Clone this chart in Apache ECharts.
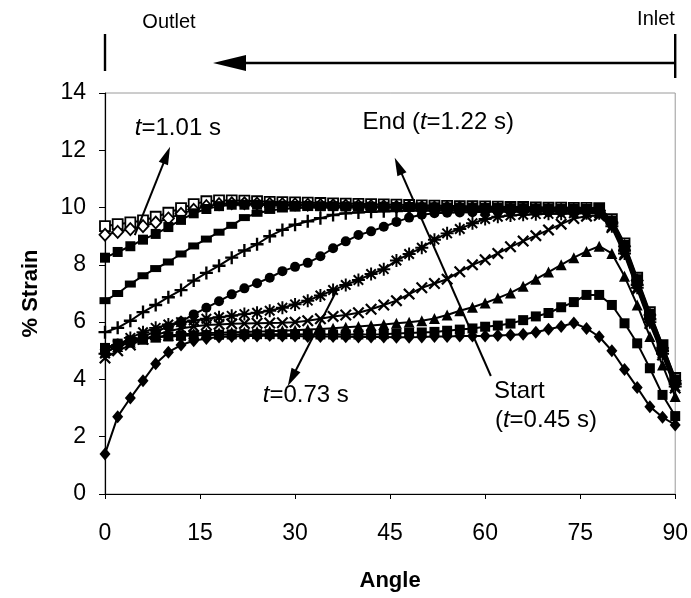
<!DOCTYPE html>
<html>
<head>
<meta charset="utf-8">
<script src="https://cdn.jsdelivr.net/npm/echarts@6/dist/echarts.min.js"></script>
<style>
  html, body { margin: 0; padding: 0; background: #fff; }
  #chart { width: 691px; height: 598px; }
</style>
</head>
<body>
<div id="chart"></div>
<script>
// Circumferential strain profiles along the vessel wall, one curve per time step.
const angles = [0, 2, 4, 6, 8, 10, 12, 14, 16, 18,
                20, 22, 24, 26, 28, 30, 32, 34, 36, 38,
                40, 42, 44, 46, 48, 50, 52, 54, 56, 58,
                60, 62, 64, 66, 68, 70, 72, 74, 76, 78,
                80, 82, 84, 86, 88, 90];
const xTicks = [0, 15, 30, 45, 60, 75, 90];
const yTicks = [0, 2, 4, 6, 8, 10, 12, 14];

// Start (t = 0.45 s)
const strainStart = [1.4, 2.7, 3.35, 3.95, 4.55, 4.95, 5.2, 5.35, 5.43, 5.48,
  5.5, 5.52, 5.52, 5.53, 5.52, 5.52, 5.5, 5.5, 5.5, 5.49,
  5.48, 5.48, 5.48, 5.47, 5.47, 5.48, 5.5, 5.5, 5.52, 5.52,
  5.52, 5.53, 5.55, 5.58, 5.65, 5.75, 5.85, 5.97, 5.78, 5.49,
  5.0, 4.35, 3.72, 3.05, 2.68, 2.41];
const strainB = [5.1, 5.25, 5.35, 5.42, 5.47, 5.5, 5.52, 5.54, 5.55, 5.56,
  5.57, 5.58, 5.58, 5.58, 5.58, 5.58, 5.57, 5.57, 5.57, 5.57,
  5.57, 5.57, 5.58, 5.6, 5.62, 5.64, 5.66, 5.7, 5.74, 5.78,
  5.84, 5.88, 5.95, 6.07, 6.2, 6.32, 6.52, 6.7, 6.95, 6.95,
  6.6, 5.96, 5.26, 4.39, 3.46, 2.72];
const strainC = [4.95, 5.15, 5.3, 5.4, 5.48, 5.53, 5.57, 5.6, 5.62, 5.63,
  5.65, 5.66, 5.67, 5.68, 5.7, 5.72, 5.74, 5.76, 5.79, 5.82,
  5.85, 5.88, 5.92, 5.96, 6.0, 6.05, 6.13, 6.25, 6.4, 6.52,
  6.67, 6.84, 7.02, 7.25, 7.5, 7.75, 8.0, 8.25, 8.47, 8.65,
  8.4, 7.6, 6.6, 5.5, 4.5, 3.4];
const strainD = [4.75, 5.0, 5.2, 5.4, 5.55, 5.68, 5.78, 5.85, 5.9, 5.92,
  5.94, 5.95, 5.96, 5.97, 5.98, 6.0, 6.05, 6.12, 6.2, 6.25,
  6.33, 6.45, 6.6, 6.75, 6.98, 7.2, 7.35, 7.5, 7.76, 8.0,
  8.18, 8.4, 8.63, 8.83, 9.02, 9.22, 9.42, 9.62, 9.7, 9.72,
  9.3, 8.35, 7.15, 5.95, 4.85, 3.7];
const strainE = [4.9, 5.2, 5.45, 5.65, 5.8, 5.92, 6.0, 6.06, 6.12, 6.17,
  6.22, 6.28, 6.33, 6.4, 6.5, 6.62, 6.75, 6.93, 7.12, 7.3,
  7.47, 7.68, 7.85, 8.15, 8.38, 8.6, 8.88, 9.1, 9.25, 9.45,
  9.6, 9.68, 9.72, 9.75, 9.77, 9.78, 9.78, 9.8, 9.8, 9.8,
  9.35, 8.4, 7.2, 6.0, 4.9, 3.75];
const strainF = [5.05, 5.2, 5.35, 5.5, 5.67, 5.84, 6.02, 6.27, 6.5, 6.73,
  6.97, 7.18, 7.36, 7.55, 7.78, 7.93, 8.07, 8.3, 8.58, 8.82,
  9.04, 9.17, 9.33, 9.5, 9.65, 9.75, 9.8, 9.82, 9.83, 9.84,
  9.85, 9.85, 9.85, 9.85, 9.85, 9.85, 9.85, 9.85, 9.85, 9.82,
  9.4, 8.45, 7.25, 6.05, 4.95, 3.8];
const strainG = [5.65, 5.8, 6.05, 6.35, 6.6, 6.87, 7.12, 7.45, 7.72, 7.97,
  8.25, 8.5, 8.72, 9.0, 9.22, 9.4, 9.52, 9.63, 9.74, 9.8,
  9.83, 9.85, 9.87, 9.88, 9.9, 9.9, 9.9, 9.91, 9.9, 9.9,
  9.9, 9.91, 9.9, 9.9, 9.9, 9.9, 9.9, 9.9, 9.9, 9.88,
  9.45, 8.5, 7.3, 6.1, 5.0, 3.85];
const strainH = [6.75, 7.0, 7.33, 7.62, 7.87, 8.1, 8.38, 8.66, 8.9, 9.14,
  9.38, 9.65, 9.8, 9.9, 9.95, 9.98, 10.0, 10.0, 10.01, 10.0,
  10.0, 10.0, 9.99, 9.99, 9.98, 9.98, 9.97, 9.97, 9.97, 9.96,
  9.96, 9.95, 9.95, 9.95, 9.94, 9.94, 9.93, 9.93, 9.93, 9.92,
  9.5, 8.6, 7.4, 6.2, 5.1, 3.95];
const strainI = [8.25, 8.45, 8.65, 8.88, 9.08, 9.32, 9.57, 9.8, 9.95, 10.05,
  10.1, 10.1, 10.1, 10.08, 10.07, 10.06, 10.06, 10.05, 10.05, 10.04,
  10.04, 10.03, 10.03, 10.02, 10.02, 10.01, 10.01, 10.0, 10.0, 10.0,
  9.99, 9.99, 9.98, 9.98, 9.97, 9.97, 9.96, 9.96, 9.95, 9.95,
  9.55, 8.7, 7.5, 6.3, 5.2, 4.0];
// t = 1.01 s
const strainJ = [9.05, 9.15, 9.25, 9.35, 9.48, 9.62, 9.78, 9.92, 10.05, 10.12,
  10.15, 10.15, 10.14, 10.13, 10.12, 10.11, 10.1, 10.09, 10.08, 10.07,
  10.06, 10.05, 10.04, 10.03, 10.02, 10.01, 10.0, 10.0, 9.99, 9.98,
  9.97, 9.96, 9.95, 9.95, 9.94, 9.93, 9.92, 9.91, 9.9, 9.9,
  9.5, 8.65, 7.45, 6.25, 5.1, 3.95];
// End (t = 1.22 s)
const strainEnd = [9.35, 9.42, 9.48, 9.55, 9.68, 9.82, 9.98, 10.12, 10.22, 10.25,
  10.25, 10.24, 10.22, 10.2, 10.19, 10.18, 10.17, 10.16, 10.15, 10.14,
  10.13, 10.12, 10.11, 10.1, 10.09, 10.08, 10.07, 10.06, 10.05, 10.05,
  10.04, 10.03, 10.02, 10.02, 10.01, 10.0, 10.0, 9.99, 9.99, 9.98,
  9.6, 8.75, 7.55, 6.35, 5.2, 4.05];

const FONT = '"Liberation Sans", Arial, Helvetica, sans-serif';
const SYM_X = 'path://M0,1.3L1.3,0L5,3.7L8.7,0L10,1.3L6.3,5L10,8.7L8.7,10L5,6.3L1.3,10L0,8.7L3.7,5Z';
const SYM_PLUS = 'path://M4.1,0H5.9V4.1H10V5.9H5.9V10H4.1V5.9H0V4.1H4.1Z';
const SYM_STAR = 'path://M0.8,1.9L1.9,0.8L5,3.9L8.1,0.8L9.2,1.9L6.1,5L9.2,8.1L8.1,9.2L5,6.1L1.9,9.2L0.8,8.1L3.9,5Z M4.25,0H5.75V4.25H10V5.75H5.75V10H4.25V5.75H0V4.25H4.25Z';

// Drawing order: open markers first so the filled ones sit on top where they overlap.
const curves = [
  { name: 't1.22', ys: strainEnd, symbol: 'rect', size: 10, open: true },
  { name: 't1.01', ys: strainJ, symbol: 'diamond', size: [11, 12], open: true },
  { name: 't0.45', ys: strainStart, symbol: 'diamond', size: [11, 13] },
  { name: 'b', ys: strainB, symbol: 'rect', size: 10 },
  { name: 'c', ys: strainC, symbol: 'triangle', size: 11 },
  { name: 'd', ys: strainD, symbol: SYM_X, size: 12 },
  { name: 'e', ys: strainE, symbol: SYM_STAR, size: 13 },
  { name: 'f', ys: strainF, symbol: 'circle', size: 10 },
  { name: 'g', ys: strainG, symbol: SYM_PLUS, size: 13 },
  { name: 'h', ys: strainH, symbol: 'rect', size: [11, 7] },
  { name: 'i', ys: strainI, symbol: 'rect', size: 10 }
];

function pairs(ys) { return angles.map((a, i) => [a, ys[i]]); }

const txt = (size) => ({ fontFamily: FONT, fontSize: size, color: '#000' });

const series = curves.map((c, k) => ({
  type: 'line',
  name: c.name,
  data: pairs(c.ys),
  symbol: c.symbol,
  symbolSize: c.size,
  showAllSymbol: true,
  animation: false,
  lineStyle: { color: '#000', width: 2 },
  itemStyle: c.open
    ? { color: '#fff', borderColor: '#000', borderWidth: 1.8 }
    : { color: '#000', borderWidth: 0 },
  emphasis: { disabled: true },
  z: 2 + k
}));

// Arrows and captions that describe how the profile evolves in time.
series.push({
  type: 'line',
  name: 'notes',
  data: [],
  animation: false,
  z: 20,
  markLine: {
    silent: true,
    animation: false,
    symbol: ['none', 'triangle'],
    symbolSize: [10, 18],
    lineStyle: { color: '#000', width: 2, type: 'solid' },
    label: { show: false },
    data: [
      [{ coord: [4.7, 9.04] }, { coord: [9.74, 11.83] }],
      [{ coord: [60.9, 4.12] }, { coord: [46.3, 11.45] }],
      [{ coord: [36.6, 7.12] }, { coord: [29.5, 4.05] }]
    ]
  },
  markPoint: {
    silent: true,
    animation: false,
    symbol: 'circle',
    symbolSize: 0,
    label: {
      show: true,
      position: 'inside',
      rich: {
        i: Object.assign(txt(24), { fontStyle: 'italic' }),
        n: txt(24)
      }
    },
    data: [
      { coord: [11.5, 12.77], label: { formatter: '{i|t}{n|=1.01 s}' } },
      { coord: [52.6, 12.98], label: { formatter: '{n|End (}{i|t}{n|=1.22 s)}' } },
      { coord: [31.7, 3.46], label: { formatter: '{i|t}{n|=0.73 s}' } },
      { coord: [65.4, 3.6], label: { formatter: '{n|Start}' } },
      { coord: [69.6, 2.58], label: { formatter: '{n|(}{i|t}{n|=0.45 s)}' } }
    ]
  }
});

const chart = echarts.init(document.getElementById('chart'), null, { renderer: 'canvas' });

chart.setOption({
  animation: false,
  backgroundColor: '#fff',
  grid: {
    left: 105, right: 14, top: 93, bottom: 104,
    show: true, borderColor: '#9a9a9a', borderWidth: 1, backgroundColor: 'transparent'
  },
  xAxis: {
    type: 'value',
    min: xTicks[0], max: xTicks[xTicks.length - 1], interval: xTicks[1] - xTicks[0],
    name: 'Angle',
    nameLocation: 'middle',
    nameGap: 76,
    nameTextStyle: { fontFamily: FONT, fontSize: 22, fontWeight: 'bold', color: '#000' },
    axisLine: { onZero: false, lineStyle: { color: '#000', width: 1.2 } },
    axisTick: { show: true, length: 5, lineStyle: { color: '#000' } },
    axisLabel: { margin: 28, fontFamily: FONT, fontSize: 23, color: '#000' },
    splitLine: { show: false }
  },
  yAxis: {
    type: 'value',
    min: yTicks[0], max: yTicks[yTicks.length - 1], interval: yTicks[1] - yTicks[0],
    name: '% Strain',
    nameLocation: 'middle',
    nameGap: 63,
    nameTextStyle: { fontFamily: FONT, fontSize: 22, fontWeight: 'bold', color: '#000' },
    axisLine: { show: true, onZero: false, lineStyle: { color: '#000', width: 1.2 } },
    axisTick: { show: true, length: 6, lineStyle: { color: '#000' } },
    axisLabel: { margin: 19, fontFamily: FONT, fontSize: 23, color: '#000' },
    splitLine: { show: false }
  },
  series: series
});

// Outlet / inlet bracket above the plot, aligned with the ends of the angle axis.
const xOut = chart.convertToPixel({ gridIndex: 0 }, [xTicks[0], 0])[0];
const xIn = chart.convertToPixel({ gridIndex: 0 }, [xTicks[xTicks.length - 1], 0])[0];
const yArrow = 63;
chart.setOption({
  graphic: [
    { type: 'line', shape: { x1: xOut, y1: 34, x2: xOut, y2: 71 }, style: { stroke: '#000', lineWidth: 2.4 } },
    { type: 'line', shape: { x1: xIn, y1: 34, x2: xIn, y2: 78 }, style: { stroke: '#000', lineWidth: 2.4 } },
    { type: 'line', shape: { x1: xIn, y1: yArrow, x2: 240, y2: yArrow }, style: { stroke: '#000', lineWidth: 2.4 } },
    { type: 'polygon', shape: { points: [[213, yArrow], [246, yArrow - 8], [246, yArrow + 8]] }, style: { fill: '#000' } },
    { type: 'text', x: 169, y: 22, style: { text: 'Outlet', font: '20px ' + FONT, fill: '#000', align: 'center', verticalAlign: 'middle' } },
    { type: 'text', x: 656, y: 19, style: { text: 'Inlet', font: '20px ' + FONT, fill: '#000', align: 'center', verticalAlign: 'middle' } }
  ]
});
</script>
</body>
</html>
